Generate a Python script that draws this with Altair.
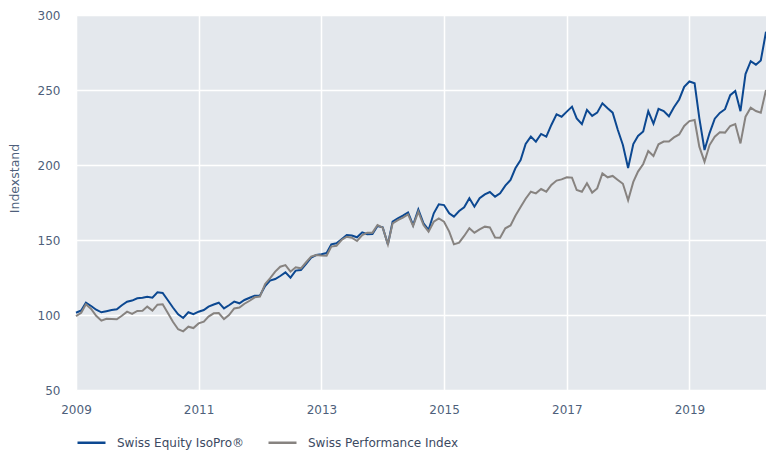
import altair as alt
import pandas as pd

series_names = ["Swiss Equity IsoPro®", "Swiss Performance Index"]
series_colors = ["#0c4891", "#878380"]

# monthly observations, Jan 2009 .. Apr 2020
start_date = "2009-01-01"
n_points = 136

isopro = [
    101.5, 103.0, 108.2, 106.0, 103.5, 101.8, 102.5, 103.3, 103.8, 106.5,
    108.9, 109.6, 111.1, 111.5, 112.2, 111.5, 115.1, 114.7, 110.0, 105.0,
    100.5, 98.0, 101.8, 100.5, 102.2, 103.3, 105.6, 107.0, 108.2, 104.4,
    106.5, 108.9, 107.8, 110.0, 111.5, 112.9, 113.0, 119.3, 122.9, 124.0,
    126.0, 128.4, 124.9, 129.6, 130.0, 134.0, 138.2, 140.0, 140.5, 141.3,
    147.1, 147.8, 150.5, 153.3, 153.0, 151.8, 155.1, 153.8, 154.0, 159.3,
    158.4, 147.1, 162.2, 164.4, 166.2, 168.4, 160.0, 170.4, 161.1, 156.7,
    167.8, 173.8, 173.3, 167.8, 165.6, 169.3, 171.8, 177.8, 172.2, 177.8,
    180.4, 182.0, 178.9, 181.1, 186.2, 190.0, 197.8, 203.3, 214.0, 218.9,
    215.6, 220.7, 218.9, 226.7, 233.8, 232.2, 235.6, 238.9, 231.1, 227.3,
    236.7, 232.7, 234.9, 241.1, 237.8, 234.9, 223.3, 213.3, 198.0, 214.0,
    219.4, 222.3, 235.9, 227.5, 237.4, 235.9, 232.5, 238.5, 243.7, 252.1,
    255.7, 254.5, 231.3, 210.0, 221.3, 230.9, 234.7, 237.2, 246.6, 249.3,
    235.9, 260.6, 269.2, 266.9, 269.7, 288.8,
]

spi = [
    99.3, 101.5, 107.1, 104.0, 99.5, 96.2, 97.5, 97.3, 97.1, 99.5,
    102.2, 100.7, 102.7, 102.9, 105.6, 102.9, 106.9, 107.1, 101.5, 95.5,
    90.5, 89.1, 92.2, 91.3, 94.4, 95.6, 98.9, 101.1, 101.3, 97.3,
    100.0, 104.4, 105.0, 107.5, 109.5, 111.8, 112.3, 120.7, 124.4, 128.9,
    132.2, 133.3, 128.9, 131.8, 131.1, 135.0, 138.9, 140.0, 139.7, 139.5,
    145.6, 146.2, 150.0, 152.2, 151.5, 149.3, 153.3, 154.9, 154.9, 160.0,
    158.2, 147.1, 161.1, 163.3, 164.9, 167.1, 159.3, 168.9, 160.0, 155.6,
    162.2, 164.4, 162.2, 155.6, 147.1, 148.2, 152.7, 157.8, 154.9, 157.1,
    158.9, 158.4, 151.7, 151.5, 157.8, 159.7, 166.2, 172.0, 177.5, 182.2,
    181.1, 184.0, 182.2, 186.7, 189.6, 190.4, 191.8, 191.6, 183.3, 182.2,
    187.8, 181.6, 184.4, 194.4, 191.8, 192.7, 190.0, 187.5, 176.5, 188.7,
    195.6, 200.7, 209.3, 206.0, 213.8, 215.6, 215.6, 218.4, 220.4, 226.0,
    229.3, 230.0, 212.2, 202.2, 213.3, 218.9, 221.8, 221.6, 226.0, 227.3,
    214.4, 232.2, 238.2, 236.0, 234.9, 250.0,
]

y_ticks = [50, 100, 150, 200, 250, 300]
x_tick_years = [2009, 2011, 2013, 2015, 2017, 2019]

dates = pd.date_range(start_date, periods=n_points, freq="MS").strftime("%Y-%m-%dT00:00:00").tolist()

df = pd.DataFrame({
    "date": dates + dates,
    "value": isopro + spi,
    "series": [series_names[0]] * n_points + [series_names[1]] * n_points,
})

label_color = "#4e5f7b"
font = "DejaVu Sans"

x_enc = alt.X(
    "date:T",
    scale=alt.Scale(domain=[alt.DateTime(year=2009, month=1, date=1),
                            alt.DateTime(year=2020, month=4, date=1)]),
    axis=alt.Axis(
        values=[alt.DateTime(year=y, month=1, date=1) for y in x_tick_years],
        format="%Y", title=None, labelPadding=14, labelAlign="center",
    ),
)
y_enc = alt.Y(
    "value:Q",
    scale=alt.Scale(domain=[50, 300], nice=False, zero=False),
    axis=alt.Axis(
        values=y_ticks, title="Indexstand", labelPadding=16,
        titleAngle=270, titleX=-62, titleY=163, titleAlign="center",
        titleBaseline="middle",
    ),
)
color_enc = alt.Color(
    "series:N",
    scale=alt.Scale(domain=series_names, range=series_colors),
    legend=alt.Legend(
        title=None, orient="none", direction="horizontal",
        legendX=0, legendY=412, symbolType="stroke", symbolSize=784,
        symbolStrokeWidth=2.5, labelOffset=10, columnPadding=18,
        labelFont=font, labelFontSize=12, labelColor="#3c4a62",
    ),
)

base = alt.Chart(df).encode(x=x_enc, y=y_enc, color=color_enc)
line_a = base.transform_filter(alt.datum.series == series_names[0]).mark_line(strokeWidth=2)
line_b = base.transform_filter(alt.datum.series == series_names[1]).mark_line(strokeWidth=2)

chart = alt.layer(line_a, line_b).properties(
    width=690, height=375,
    autosize=alt.AutoSizeParams(type="none"),
    padding={"left": 68, "top": 7, "right": 0, "bottom": 62},
).configure_view(
    fill="#e4e8ed", stroke="transparent"
).configure_axis(
    grid=True, gridColor="#ffffff", gridWidth=1.5, domain=False, ticks=False, tickSize=0,
    labelFont=font, labelFontSize=12, labelColor=label_color,
    titleFont=font, titleFontSize=12.5, titleFontWeight="normal", titleColor=label_color,
)

chart.save("out.html", embed_options={"renderer": "svg", "actions": False})
